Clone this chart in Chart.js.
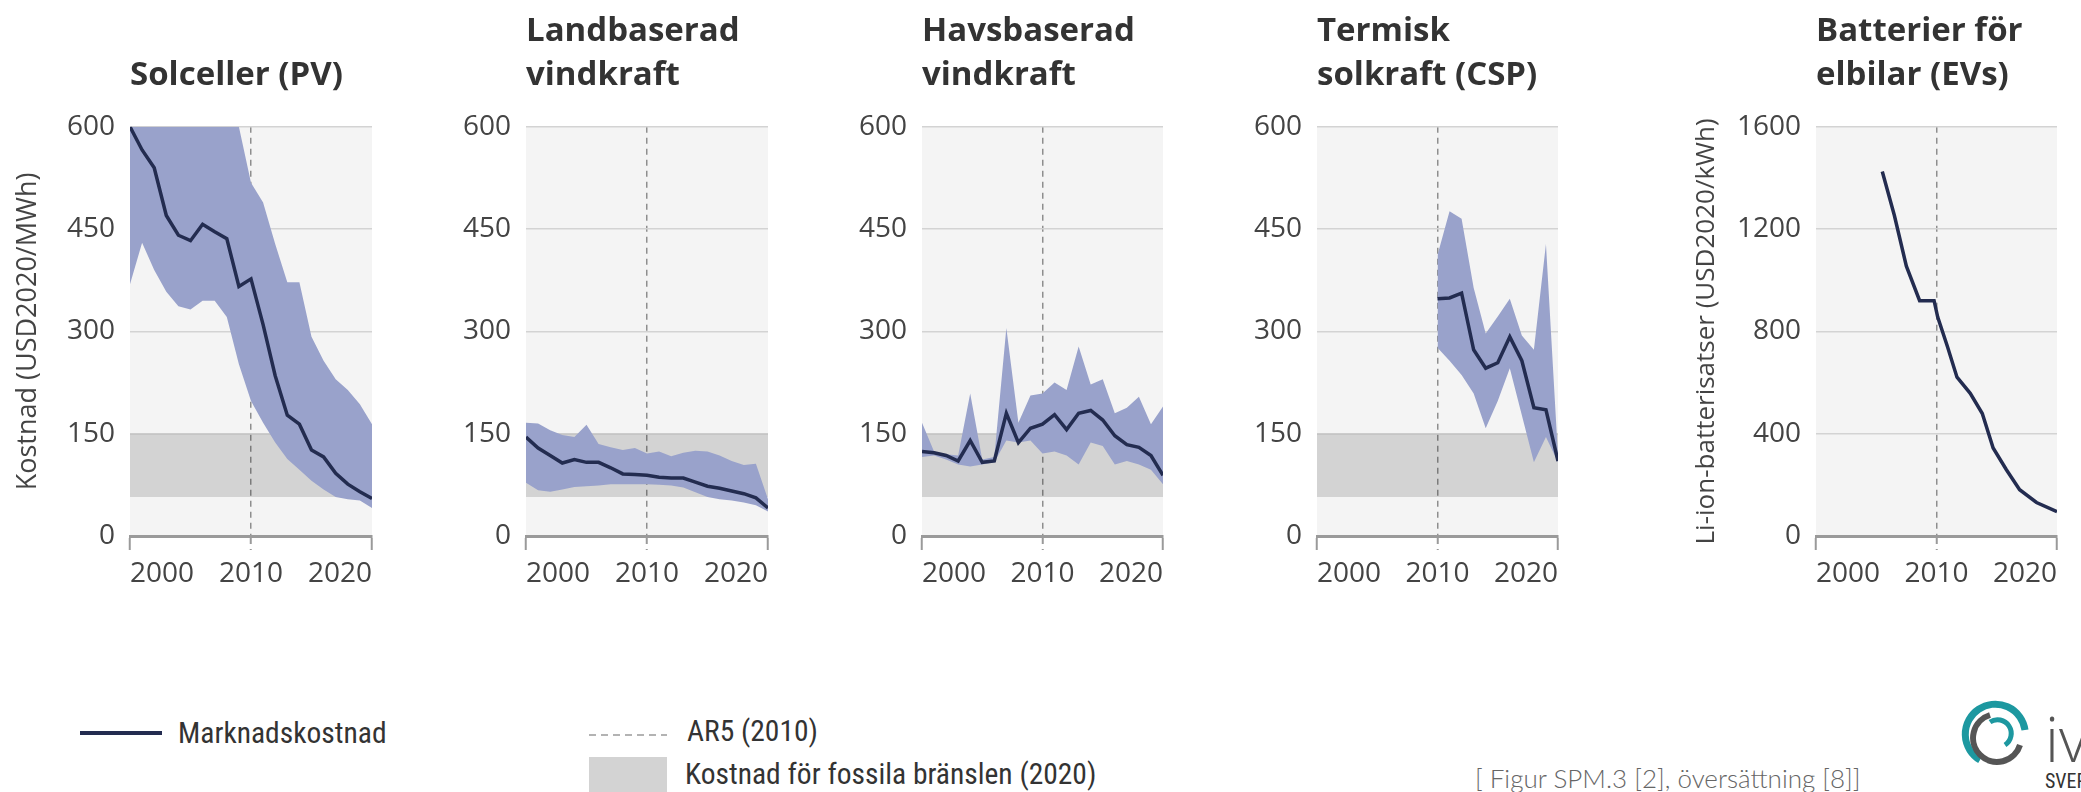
<!DOCTYPE html>
<html>
<head>
<meta charset="utf-8">
<title>Kostnadsutveckling</title>
<script src="https://cdn.jsdelivr.net/npm/chart.js@4.4.1/dist/chart.umd.min.js"></script>
<style>
  html, body { margin: 0; padding: 0; background: #ffffff; }
  body { position: relative; width: 2081px; height: 792px; overflow: hidden; font-family: 'Open Sans', sans-serif; color: #333; }
  canvas { position: absolute; top: 0; }
  .lg { position: absolute; font-family: 'Roboto Condensed', 'Open Sans', sans-serif; font-size: 29.5px; line-height: 30px; color: #333; white-space: nowrap; }
</style>
</head>
<body>
<canvas id="pv" width="406" height="600" style="left:0px"></canvas>
<canvas id="onshore" width="392" height="600" style="left:410px"></canvas>
<canvas id="offshore" width="391" height="600" style="left:806px"></canvas>
<canvas id="csp" width="392" height="600" style="left:1200px"></canvas>
<canvas id="ev" width="421" height="600" style="left:1660px"></canvas>

<svg style="position:absolute;left:80px;top:729px" width="82" height="8"><line x1="0" y1="4" x2="82" y2="4" stroke="#232c50" stroke-width="4"/></svg>
<div class="lg" style="left:178px;top:718px">Marknadskostnad</div>
<svg style="position:absolute;left:589px;top:732px" width="78" height="6"><line x1="0" y1="3" x2="78" y2="3" stroke="#9a9a9a" stroke-width="1.5" stroke-dasharray="7 5"/></svg>
<div class="lg" style="left:687px;top:716px">AR5 (2010)</div>
<div style="position:absolute;left:589px;top:757px;width:78px;height:35px;background:#d3d3d3"></div>
<div class="lg" style="left:685px;top:759px">Kostnad för fossila bränslen (2020)</div>

<div style="position:absolute;left:1475px;top:763px;font-family:Lato,'Open Sans',sans-serif;font-weight:300;font-size:26px;line-height:30px;color:#666;white-space:nowrap">[ Figur SPM.3 [2], översättning [8]]</div>

<svg style="position:absolute;left:1950px;top:690px" width="131" height="102">
  <path d="M 30 70 A 30 30 0 1 1 75 40" fill="none" stroke="#1d98a0" stroke-width="7"/>
  <path d="M 70 55 A 24 24 0 1 1 40 25" fill="none" stroke="#555" stroke-width="6"/>
  <path d="M 40 32 A 12 12 0 1 1 55 55" fill="none" stroke="#1d98a0" stroke-width="5"/>
  <text x="95" y="72" font-family="Open Sans" font-weight="300" font-size="62" fill="#555">iv</text>
  <text x="95" y="98" font-family="Roboto Condensed" font-size="20" fill="#333">SVERIGE</text>
</svg>

<script>
const years = [2000, 2001, 2002, 2003, 2004, 2005, 2006, 2007, 2008, 2009, 2010,
               2011, 2012, 2013, 2014, 2015, 2016, 2017, 2018, 2019, 2020];

// Solceller (PV), USD2020/MWh
const pvCost = [600, 566, 540, 470, 441, 433, 457, 446, 436, 366, 377, 310, 235, 177, 164, 126, 116, 92, 76, 65, 55];
const pvHigh = [800, 790, 780, 770, 760, 750, 740, 700, 650, 600, 518, 489, 428, 372, 372, 292, 257, 230, 214, 193, 164];
const pvLow  = [369, 430, 390, 358, 337, 332, 345, 345, 321, 252, 198, 166, 137, 113, 97, 81, 68, 57, 54, 52, 41];

// Landbaserad vindkraft
const onshoreCost = [145, 129, 118, 107, 112, 108, 108, 100, 91, 90, 89, 86, 85, 85, 79, 73, 70, 66, 62, 56, 41];
const onshoreHigh = [166, 165, 155, 148, 145, 163, 135, 130, 126, 129, 121, 124, 117, 122, 125, 124, 118, 110, 104, 106, 54];
const onshoreLow  = [78, 67, 65, 68, 72, 73, 74, 76, 76, 76, 76, 75, 74, 71, 64, 57, 54, 52, 49, 45, 36];

// Havsbaserad vindkraft
const offshoreCost = [124, 122, 118, 110, 140, 108, 110, 180, 137, 158, 164, 178, 156, 180, 184, 170, 147, 134, 130, 118, 89];
const offshoreHigh = [166, 124, 120, 118, 209, 112, 116, 305, 166, 206, 209, 225, 214, 278, 222, 230, 180, 188, 204, 164, 190];
const offshoreLow  = [116, 118, 112, 105, 102, 105, 108, 140, 137, 140, 121, 124, 118, 105, 137, 132, 105, 110, 105, 97, 76];

// Termisk solkraft (CSP)
const cspYears = [2010, 2011, 2012, 2013, 2014, 2015, 2016, 2017, 2018, 2019, 2020];
const cspCost = [348, 349, 356, 273, 246, 254, 292, 257, 188, 185, 110];
const cspHigh = [412, 476, 465, 364, 297, 322, 348, 294, 273, 428, 118];
const cspLow  = [276, 257, 236, 209, 158, 198, 246, 177, 108, 145, 108];

// Batterier för elbilar, USD2020/kWh
const evYears = [2005.5, 2006.5, 2007.5, 2008.6, 2009.8, 2010.1, 2010.9, 2011.7, 2012.8, 2013.8, 2014.7, 2015.8, 2016.9, 2018.3, 2020];
const evCost  = [1425, 1254, 1055, 920, 920, 856, 742, 621, 558, 479, 344, 259, 181, 131, 95];

// Kostnad för fossila bränslen (2020)
const fossilYears = [2000, 2020];
const fossilLow  = [57, 57];
const fossilHigh = [150, 150];

const ar5Year = 2010;
const yearTicks = [2000, 2010, 2020];
const costTicks = [0, 150, 300, 450, 600];
const evTicks = [0, 400, 800, 1200, 1600];

const FONT = "'Open Sans', sans-serif";
const colBand = '#99a2cb';
const colLine = '#232c50';
const colText = '#444444';

function pts(xs, ys) {
  return xs.map((x, i) => ({ x: x, y: ys[i] }));
}

const plotBackground = {
  id: 'plotBackground',
  beforeDraw(chart) {
    const a = chart.chartArea;
    const ctx = chart.ctx;
    ctx.save();
    ctx.fillStyle = '#f4f4f4';
    ctx.fillRect(a.left, a.top, a.right - a.left, a.bottom - a.top);
    ctx.restore();
  }
};

function makePanel(id, o) {
  const datasets = [{
    label: 'Marknadskostnad',
    data: pts(o.x, o.cost),
    borderColor: colLine,
    borderWidth: 3.5,
    pointRadius: 0,
    fill: false,
    order: 0
  }];
  if (o.high) {
    datasets.push({ data: pts(o.x, o.high), borderWidth: 0, pointRadius: 0, backgroundColor: colBand, fill: '+1', order: 1 });
    datasets.push({ data: pts(o.x, o.low), borderWidth: 0, pointRadius: 0, fill: false, order: 2 });
  }
  if (o.fossil) {
    datasets.push({ data: pts(fossilYears, fossilHigh), borderWidth: 0, pointRadius: 0, backgroundColor: 'rgba(0,0,0,0.135)', fill: '+1', order: 3 });
    datasets.push({ data: pts(fossilYears, fossilLow), borderWidth: 0, pointRadius: 0, fill: false, order: 4 });
  }

  new Chart(document.getElementById(id), {
    type: 'line',
    data: { datasets: datasets },
    plugins: [plotBackground],
    options: {
      responsive: false,
      animation: false,
      events: [],
      layout: { padding: { left: 0, top: 0, bottom: 0, right: o.padRight } },
      plugins: {
        legend: { display: false },
        tooltip: { enabled: false },
        title: {
          display: true,
          text: o.title,
          align: 'start',
          fullSize: false,
          color: '#333333',
          font: { family: FONT, size: 33, weight: 'bold', lineHeight: 1.345 },
          padding: { top: o.title.length > 1 ? 9 : 53.4, bottom: 29 }
        }
      },
      scales: {
        x: {
          type: 'linear',
          min: 2000,
          max: 2020,
          afterBuildTicks: s => { s.ticks = yearTicks.map(v => ({ value: v })); },
          afterFit: s => { s.height = 64; },
          grid: {
            color: c => (c.tick && c.tick.value === ar5Year) ? '#8e8e8e' : 'rgba(0,0,0,0)',
            lineWidth: 1.5,
            tickLength: 14,
            tickWidth: 2,
            tickColor: '#9a9a9a',
            tickBorderDash: c => (c.tick && c.tick.value === ar5Year) ? [6, 5] : []
          },
          border: { display: true, color: '#9a9a9a', width: 3, dash: [6, 5] },
          ticks: {
            align: 'inner',
            padding: 7,
            color: colText,
            font: { family: FONT, size: 28 },
            callback: v => String(v)
          }
        },
        y: {
          min: 0,
          max: o.yMax,
          afterBuildTicks: s => { s.ticks = o.yTicks.map(v => ({ value: v })); },
          afterFit: s => { s.width = o.yWidth; },
          grid: { color: '#d3d3d3', lineWidth: 1.5, drawTicks: false },
          border: { display: false },
          ticks: {
            padding: 15,
            color: colText,
            font: { family: FONT, size: 28 },
            callback: v => String(v)
          },
          title: o.yTitle ? {
            display: true,
            text: o.yTitle,
            color: colText,
            font: { family: FONT, size: o.yTitleSize },
            padding: { top: o.yTitlePad, bottom: 0 }
          } : { display: false }
        }
      }
    }
  });
}

makePanel('pv', {
  title: ['Solceller (PV)'], x: years, cost: pvCost, high: pvHigh, low: pvLow, fossil: true,
  yMax: 600, yTicks: costTicks, yWidth: 130, padRight: 34,
  yTitle: 'Kostnad (USD2020/MWh)', yTitleSize: 27, yTitlePad: 12
});
makePanel('onshore', {
  title: ['Landbaserad', 'vindkraft'], x: years, cost: onshoreCost, high: onshoreHigh, low: onshoreLow, fossil: true,
  yMax: 600, yTicks: costTicks, yWidth: 116, padRight: 34
});
makePanel('offshore', {
  title: ['Havsbaserad', 'vindkraft'], x: years, cost: offshoreCost, high: offshoreHigh, low: offshoreLow, fossil: true,
  yMax: 600, yTicks: costTicks, yWidth: 116, padRight: 34
});
makePanel('csp', {
  title: ['Termisk', 'solkraft (CSP)'], x: cspYears, cost: cspCost, high: cspHigh, low: cspLow, fossil: true,
  yMax: 600, yTicks: costTicks, yWidth: 117, padRight: 34
});
makePanel('ev', {
  title: ['Batterier för', 'elbilar (EVs)'], x: evYears, cost: evCost, fossil: false,
  yMax: 1600, yTicks: evTicks, yWidth: 156, padRight: 24,
  yTitle: 'Li-ion-batterisatser (USD2020/kWh)', yTitleSize: 26, yTitlePad: 31
});
</script>
</body>
</html>
